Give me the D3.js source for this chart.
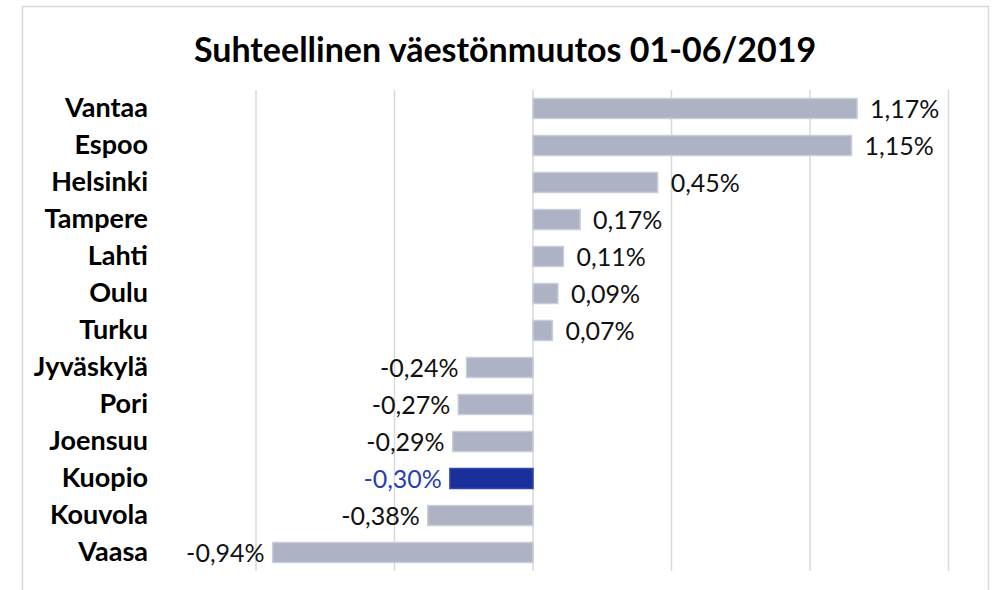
<!DOCTYPE html>
<html>
<head>
<meta charset="utf-8">
<script src="https://cdn.jsdelivr.net/npm/d3@7"></script>
<style>
  body { margin: 0; background: #fff; }
  svg { display: block; }
</style>
</head>
<body>
<div id="chart"></div>
<script>
const cities = ["Vantaa", "Espoo", "Helsinki", "Tampere", "Lahti", "Oulu", "Turku",
                "Jyväskylä", "Pori", "Joensuu", "Kuopio", "Kouvola", "Vaasa"]
const changes = [1.17, 1.15, 0.45, 0.17, 0.11, 0.09, 0.07,
                 -0.24, -0.27, -0.29, -0.30, -0.38, -0.94]
const gridTicks = [-1, -0.5, 0, 0.5, 1, 1.5]
const highlight = "Kuopio"

const width = 994, height = 590
const font = "Lato, 'Open Sans', sans-serif"
const svg = d3.select("#chart").append("svg")
    .attr("width", width)
    .attr("height", height)

// chart area border
svg.append("rect")
    .attr("x", 22.5).attr("y", 6.5)
    .attr("width", 966).attr("height", 600)
    .attr("fill", "none")
    .attr("stroke", "#d5d8e0")
    .attr("stroke-width", 1.5)

const x = d3.scaleLinear().domain([-1, 1.5]).range([256, 948.5])
const y = d3.scaleBand().domain(cities).range([90, 571]).paddingInner(0.46).paddingOuter(0.23)

// title
svg.append("text")
    .attr("x", 505).attr("y", 62)
    .attr("text-anchor", "middle")
    .style("font-family", font)
    .style("font-weight", "bold")
    .style("font-size", "34px")
    .attr("fill", "#000")
    .text("Suhteellinen väestönmuutos 01-06/2019")

// gridlines
svg.append("g").selectAll("line")
    .data(gridTicks)
    .join("line")
    .attr("x1", d => x(d)).attr("x2", d => x(d))
    .attr("y1", 90).attr("y2", 571)
    .attr("stroke", "#d9d9d9")
    .attr("stroke-width", 1.5)

const fmt = v => d3.format(".2f")(v).replace(".", ",").replace("−", "-") + "%"

const rows = svg.append("g").selectAll("g")
    .data(cities.map((c, i) => ({ city: c, value: changes[i] })))
    .join("g")

rows.append("rect")
    .attr("x", d => x(Math.min(0, d.value)))
    .attr("y", d => y(d.city))
    .attr("width", d => Math.abs(x(d.value) - x(0)))
    .attr("height", y.bandwidth())
    .attr("fill", d => d.city === highlight ? "#1b2f9c" : "#adb3c5")
    .attr("stroke", d => d.city === highlight ? "#3347ab" : "#c9cdd9")
    .attr("stroke-width", 1.5)

rows.append("text")
    .attr("x", d => d.value >= 0 ? x(d.value) + 13 : x(d.value) - 8)
    .attr("y", d => y(d.city) + y.bandwidth() / 2 + 1)
    .attr("dy", "0.35em")
    .attr("text-anchor", d => d.value >= 0 ? "start" : "end")
    .style("font-family", font)
    .style("font-size", "25px")
    .attr("fill", d => d.city === highlight ? "#2a3fae" : "#111")
    .text(d => fmt(d.value))

// category labels
const yAxis = svg.append("g")
    .attr("transform", "translate(148,0)")
    .call(d3.axisLeft(y).tickSize(0).tickPadding(0))
yAxis.select(".domain").remove()
yAxis.selectAll("text")
    .style("font-family", font)
    .style("font-weight", "bold")
    .style("font-size", "27px")
    .attr("fill", "#000")
</script>
</body>
</html>
